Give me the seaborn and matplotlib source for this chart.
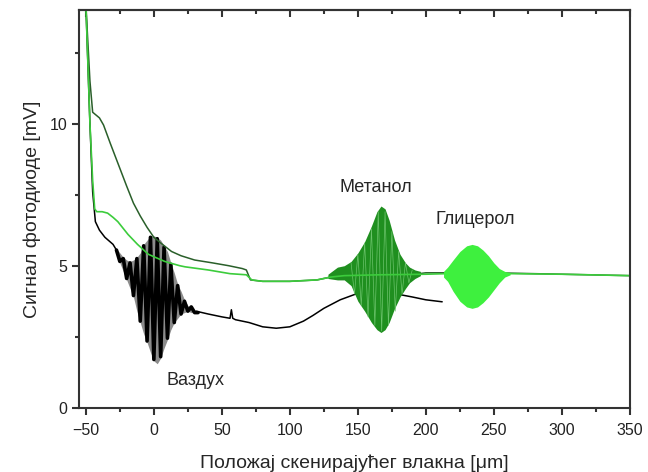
import matplotlib
matplotlib.use("Agg")
import matplotlib.pyplot as plt
import pandas as pd
import seaborn as sns
from matplotlib.ticker import MultipleLocator

# ---- data ----
# Ваздух (air): slow baseline
air_x = [-50, -47, -45, -43, -40, -36, -30, -27.5,
         31, 40, 50, 56, 57, 58, 60, 70, 80, 90, 100, 110, 117, 125,
         137, 154, 166, 172, 179, 190, 200, 212]
air_y = [14.2, 10.0, 7.6, 6.55, 6.25, 6.0, 5.75, 5.55,
         3.4, 3.3, 3.2, 3.15, 3.45, 3.15, 3.1, 3.0, 2.85, 2.8, 2.85, 3.05, 3.25, 3.5,
         3.8, 4.1, 4.25, 4.1, 4.0, 3.9, 3.8, 3.73]
# Ваздух interferogram: envelope and visible fringes
air_env_x = [-27.5, -25, -22.5, -20, -17.5, -15, -12.5, -10, -7.5, -5, -2.5, 0,
             2.5, 5, 7.5, 10, 12.5, 15, 17.5, 20, 22.5, 25, 27.5, 30, 32.5]
air_env_hi = [5.6, 5.45, 5.3, 5.2, 5.15, 5.2, 5.3, 5.45, 5.75, 5.9, 6.05, 6.05,
              6.0, 5.9, 5.7, 5.5, 5.1, 4.75, 4.35, 4.1, 3.8, 3.6, 3.5, 3.4, 3.35]
air_env_lo = [5.4, 5.1, 4.8, 4.5, 4.2, 3.9, 3.4, 3.0, 2.6, 2.3, 1.95, 1.65,
              1.55, 1.75, 2.1, 2.4, 2.75, 3.0, 3.15, 3.3, 3.35, 3.4, 3.35, 3.35, 3.35]
air_fringe_y = [5.55, 5.15, 5.25, 4.55, 5.1, 3.95, 5.25, 3.05, 5.7, 2.35, 6.0, 1.7,
                5.95, 1.8, 5.65, 2.45, 5.05, 3.0, 4.3, 3.3, 3.75, 3.4, 3.55, 3.35, 3.35]

# Метанол: baseline and interferogram envelope
meth_x = [-50, -47, -45, -40, -37, -32, -28, -24, -20, -15, -10, -5, 0, 5, 13, 20,
          30, 43, 55, 65, 68, 71, 80, 100, 120, 130, 140, 150, 166, 180, 195,
          200, 250, 300, 350]
meth_y = [14.2, 11.5, 10.4, 10.2, 9.95, 9.3, 8.8, 8.3, 7.8, 7.2, 6.75, 6.35, 6.0, 5.8,
          5.5, 5.35, 5.2, 5.1, 5.0, 4.9, 4.85, 4.5, 4.45, 4.45, 4.5, 4.6, 4.65, 4.65,
          4.65, 4.7, 4.72, 4.75, 4.75, 4.7, 4.65]
meth_env_x = [128, 135, 140, 145, 150, 155, 160, 164, 167, 170, 173, 177, 181,
              185, 188, 192, 196]
meth_env_hi = [4.7, 4.95, 5.0, 5.15, 5.45, 5.85, 6.4, 6.9, 7.1, 7.0, 6.6, 5.9, 5.4,
               5.1, 4.95, 4.85, 4.8]
meth_env_lo = [4.55, 4.5, 4.5, 4.3, 3.75, 3.4, 3.0, 2.75, 2.65, 2.75, 3.0, 3.5, 3.9,
               4.2, 4.4, 4.55, 4.65]
# lighter fringe streaks visible inside the methanol packet
meth_fr_x = [145, 147.5, 150, 152.5, 155, 157.5, 160, 162.5, 165, 167.5, 170,
             172.5, 175, 177.5, 180, 182.5, 185, 187.5, 190]
meth_fr_y = [5.1, 4.0, 5.4, 3.6, 5.8, 3.2, 6.3, 2.9, 6.9, 2.7, 6.9, 2.9, 6.2, 3.4,
             5.5, 4.0, 5.1, 4.4, 4.85]

# Глицерол: baseline and interferogram envelope
glyc_x = [-50, -47, -45, -43.5, -42, -38, -34, -30, -26.5, -19, -12, -4, 8, 19,
          23, 40, 56, 68, 72, 80, 100, 120, 130, 140, 166, 200, 215, 262, 300, 350]
glyc_y = [14.2, 10.0, 8.0, 7.0, 6.9, 6.9, 6.85, 6.7, 6.55, 6.1, 5.75, 5.4, 5.15,
          5.0, 4.96, 4.85, 4.72, 4.68, 4.5, 4.45, 4.45, 4.5, 4.6, 4.65, 4.68, 4.7,
          4.72, 4.72, 4.7, 4.65]
glyc_env_x = [213, 216, 220, 225, 230, 234, 238, 242, 246, 250, 254, 258, 262]
glyc_env_hi = [4.8, 4.95, 5.2, 5.5, 5.7, 5.75, 5.7, 5.55, 5.35, 5.1, 4.9, 4.8, 4.75]
glyc_env_lo = [4.6, 4.45, 4.1, 3.75, 3.55, 3.5, 3.55, 3.7, 3.9, 4.15, 4.4, 4.6, 4.68]

AIR_C = "black"
AIR_FILL = "#8c8c8c"
METH_LINE = "#2a5f2a"
METH_FILL = "#1f8f1f"
METH_STREAK = "#6cc46c"
GLYC_LINE = "#3ccc3c"
GLYC_FILL = "#3ef03e"
AX_C = "#333333"

####################################################################################################

sns.set_style("ticks")
plt.rcParams['font.family'] = ['Liberation Sans', 'DejaVu Sans']

fig, ax = plt.subplots(figsize=(6.48, 4.72), dpi=100)
fig.subplots_adjust(left=0.122, right=0.972, bottom=0.136, top=0.979)

air_df = pd.DataFrame({"x": air_x, "y": air_y})
meth_df = pd.DataFrame({"x": meth_x, "y": meth_y})
glyc_df = pd.DataFrame({"x": glyc_x, "y": glyc_y})
fringe_df = pd.DataFrame({"x": air_env_x, "y": air_fringe_y})
meth_fr_df = pd.DataFrame({"x": meth_fr_x, "y": meth_fr_y})

# air: gray envelope, black fringes, then the slow parts
ax.fill_between(air_env_x, air_env_lo, air_env_hi, color=AIR_FILL, lw=0, zorder=1.9)
sns.lineplot(data=fringe_df, x="x", y="y", color=AIR_C, lw=2.6, sort=False,
             estimator=None, ax=ax, zorder=2.0)
sns.lineplot(data=air_df[air_df.x <= -27.5], x="x", y="y", color=AIR_C, lw=1.1,
             sort=False, estimator=None, ax=ax, zorder=2.0)
sns.lineplot(data=air_df[air_df.x >= 31], x="x", y="y", color=AIR_C, lw=1.1,
             sort=False, estimator=None, ax=ax, zorder=2.0)

# methanol
sns.lineplot(data=meth_df, x="x", y="y", color=METH_LINE, lw=1.1, sort=False,
             estimator=None, ax=ax, zorder=2.1)
ax.fill_between(meth_env_x, meth_env_lo, meth_env_hi, color=METH_FILL, lw=0, zorder=2.2)
sns.lineplot(data=meth_fr_df, x="x", y="y", color=METH_STREAK, lw=0.5, sort=False,
             estimator=None, ax=ax, zorder=2.3)

# glycerol
sns.lineplot(data=glyc_df, x="x", y="y", color=GLYC_LINE, lw=1.2, sort=False,
             estimator=None, ax=ax, zorder=2.4)
ax.fill_between(glyc_env_x, glyc_env_lo, glyc_env_hi, color=GLYC_FILL, lw=0, zorder=2.5)

ax.text(9, 0.8, "Ваздух", fontsize=13)
ax.text(163, 7.6, "Метанол", fontsize=13, ha="center")
ax.text(236, 6.45, "Глицерол", fontsize=13, ha="center")

ax.set_xlim(-55, 350)
ax.set_ylim(0, 14)
ax.xaxis.set_major_locator(MultipleLocator(50))
ax.xaxis.set_minor_locator(MultipleLocator(25))
ax.yaxis.set_major_locator(MultipleLocator(5))
ax.yaxis.set_minor_locator(MultipleLocator(2.5))
ax.tick_params(axis="both", which="major", labelsize=11.5, width=1.5, length=5,
               color=AX_C, labelcolor="#222222")
ax.tick_params(axis="both", which="minor", width=1.5, length=3, color=AX_C)
ax.tick_params(axis="x", which="major", pad=6)

# top ticks point inward, without labels
top = ax.secondary_xaxis("top")
top.xaxis.set_major_locator(MultipleLocator(50))
top.xaxis.set_minor_locator(MultipleLocator(25))
top.tick_params(which="both", direction="in", labeltop=False, width=1.5, color=AX_C)
top.tick_params(which="major", length=5)
top.tick_params(which="minor", length=3)
top.spines["top"].set_linewidth(1.5)
top.spines["top"].set_color(AX_C)

ax.set_xlabel("Положај скенирајућег влакна [μm]", fontsize=14, labelpad=12)
ax.set_ylabel("Сигнал фотодиоде [mV]", fontsize=14, labelpad=6)
for sp in ax.spines.values():
    sp.set_linewidth(1.5)
    sp.set_color(AX_C)

plt.savefig("out.png", dpi=100)
